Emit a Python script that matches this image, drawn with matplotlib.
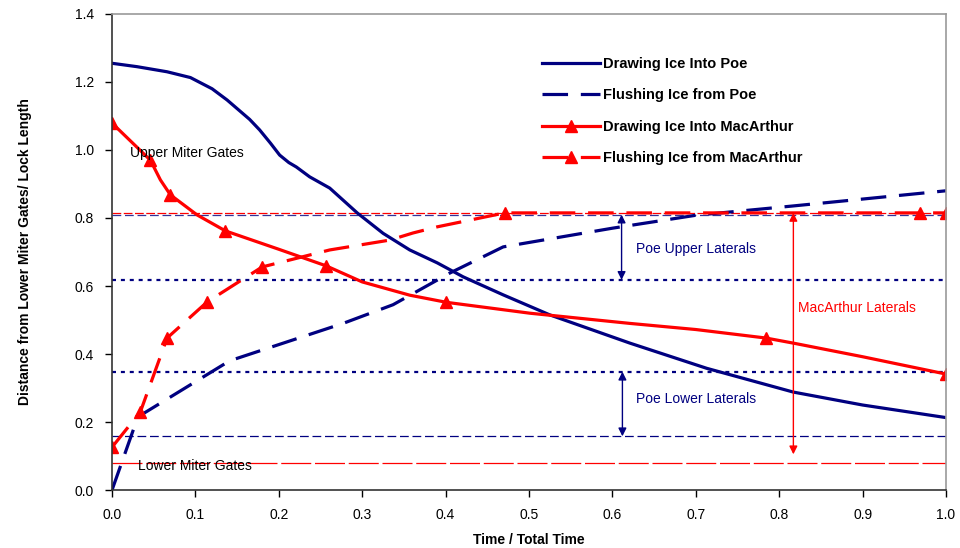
import matplotlib.pyplot as plt

plt.rcParams['font.family'] = ['Liberation Sans', 'DejaVu Sans']

NAVY = '#000080'
RED = '#ff0000'

# Drawing ice into Poe (smooth solid line)
poe_draw_x = [0.0, 0.03, 0.066, 0.094, 0.12, 0.138, 0.165, 0.177, 0.19, 0.201, 0.212, 0.221,
              0.237, 0.261, 0.294, 0.325, 0.357, 0.39, 0.421, 0.469, 0.525, 0.621, 0.713,
              0.817, 0.9, 1.0]
poe_draw_y = [1.255, 1.245, 1.23, 1.213, 1.18, 1.147, 1.09, 1.059, 1.02, 0.985, 0.963, 0.95,
              0.921, 0.888, 0.815, 0.755, 0.706, 0.668, 0.627, 0.574, 0.515, 0.432, 0.358,
              0.288, 0.25, 0.213]

# Flushing ice from Poe (dashed)
poe_flush_x = [0.0, 0.031, 0.141, 0.277, 0.337, 0.405, 0.469, 0.6, 0.7, 0.815, 1.0]
poe_flush_y = [0.0, 0.215, 0.38, 0.49, 0.545, 0.638, 0.715, 0.77, 0.808, 0.835, 0.88]

# Drawing ice into MacArthur (solid with triangles)
mac_draw_x = [0.0, 0.046, 0.058, 0.07, 0.102, 0.136, 0.2, 0.257, 0.3, 0.357, 0.401, 0.501,
              0.621, 0.7, 0.784, 0.817, 0.9, 1.0]
mac_draw_y = [1.079, 0.97, 0.912, 0.868, 0.809, 0.762, 0.708, 0.659, 0.612, 0.573, 0.552,
              0.52, 0.49, 0.472, 0.447, 0.432, 0.392, 0.341]
mac_draw_marks = [0, 1, 3, 5, 7, 10, 14, 17]

# Flushing ice from MacArthur (dashed with triangles)
mac_flush_x = [0.0, 0.034, 0.066, 0.114, 0.18, 0.261, 0.333, 0.361, 0.39, 0.471, 0.969, 1.0]
mac_flush_y = [0.126, 0.23, 0.447, 0.553, 0.656, 0.706, 0.735, 0.756, 0.774, 0.815, 0.815, 0.815]
mac_flush_marks = [0, 1, 2, 3, 4, 9, 10, 11]

# reference levels
mac_upper_gates = 0.815
poe_upper_gates = 0.81
poe_upper_lat = 0.618
poe_lower_lat = 0.348
poe_lower_gates = 0.158
mac_lower_gates = 0.0785

fig = plt.figure(figsize=(9.6, 5.48), dpi=100)
ax = fig.add_axes([0.1167, 0.1058, 0.8687, 0.8687])

ax.axhline(mac_upper_gates, color=RED, lw=0.9, dashes=(7, 2))
ax.axhline(poe_upper_gates, color=NAVY, lw=0.9, dashes=(7, 3), alpha=0.8)
ax.axhline(poe_upper_lat, color=NAVY, lw=1.6, dashes=(1.8, 2.2))
ax.axhline(poe_lower_lat, color=NAVY, lw=1.6, dashes=(1.8, 2.2))
ax.axhline(poe_lower_gates, color=NAVY, lw=0.9, dashes=(7, 3))
ax.axhline(mac_lower_gates, color=RED, lw=0.9, dashes=(24, 3))

ax.plot(poe_draw_x, poe_draw_y, color=NAVY, lw=2.3, label='Drawing Ice Into Poe')
ax.plot(poe_flush_x, poe_flush_y, color=NAVY, lw=2.3, dashes=(8, 4),
        label='Flushing Ice from Poe')
ax.plot(mac_draw_x, mac_draw_y, color=RED, lw=2.3, marker='^', ms=8,
        markevery=mac_draw_marks, label='Drawing Ice Into MacArthur')
ax.plot(mac_flush_x, mac_flush_y, color=RED, lw=2.3, dashes=(8, 4), marker='^', ms=8,
        markevery=mac_flush_marks, label='Flushing Ice from MacArthur')

# lateral spans
arrow_navy = dict(arrowstyle='<|-|>', color=NAVY, lw=1, mutation_scale=12, shrinkA=0, shrinkB=0)
arrow_red = dict(arrowstyle='<|-|>', color=RED, lw=1, mutation_scale=12, shrinkA=0, shrinkB=0)
ax.annotate('', xy=(0.611, poe_upper_lat), xytext=(0.611, poe_upper_gates), arrowprops=arrow_navy)
ax.annotate('', xy=(0.612, poe_lower_gates), xytext=(0.612, poe_lower_lat), arrowprops=arrow_navy)
ax.annotate('', xy=(0.817, 0.105), xytext=(0.817, mac_upper_gates), arrowprops=arrow_red)

ax.text(0.022, 0.99, 'Upper Miter Gates', fontsize=10, va='center')
ax.text(0.031, 0.07, 'Lower Miter Gates', fontsize=10, va='center')
ax.text(0.628, 0.71, 'Poe Upper Laterals', fontsize=10, color=NAVY, va='center')
ax.text(0.628, 0.268, 'Poe Lower Laterals', fontsize=10, color=NAVY, va='center')
ax.text(0.823, 0.535, 'MacArthur Laterals', fontsize=10, color=RED, va='center')

ax.set_xlim(0, 1.0)
ax.set_ylim(0, 1.4)
ax.set_xticks([i / 10 for i in range(11)])
ax.set_yticks([i / 5 for i in range(8)])
ax.xaxis.set_major_formatter(plt.FormatStrFormatter('%.1f'))
ax.yaxis.set_major_formatter(plt.FormatStrFormatter('%.1f'))
ax.tick_params(direction='out', length=5, width=1, labelsize=10, pad=8)
for side in ['left', 'bottom']:
    ax.spines[side].set_color('#333333')
    ax.spines[side].set_linewidth(1.2)
for side in ['top', 'right']:
    ax.spines[side].set_color('#999999')
    ax.spines[side].set_linewidth(1.2)

ax.set_xlabel('Time / Total Time', fontsize=10, fontweight='bold', labelpad=8)
ax.set_ylabel('Distance from Lower Miter Gates/ Lock Length', fontsize=10,
              fontweight='bold', labelpad=31)

leg = ax.legend(loc='upper left', bbox_to_anchor=(0.5, 0.938), frameon=False,
                prop={'weight': 'bold', 'size': 10.5}, handlelength=4.0, labelspacing=1.2,
                handletextpad=0.2)

fig.savefig('out.png', dpi=100)
